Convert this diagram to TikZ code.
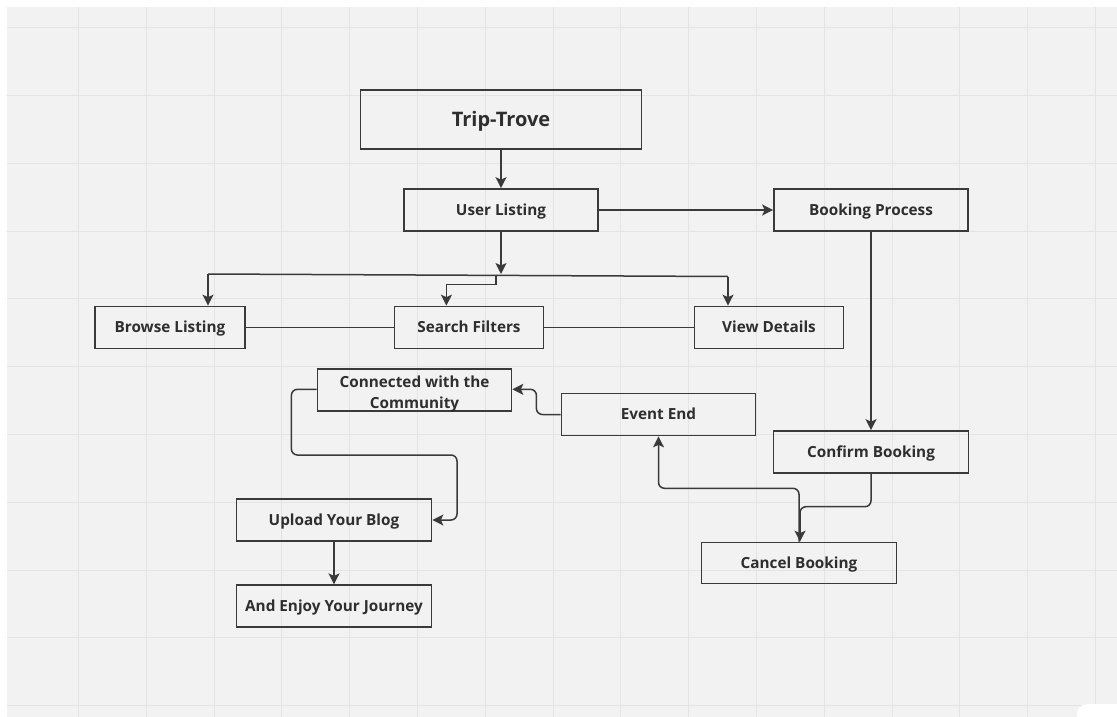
\documentclass[tikz,border=0pt]{standalone}
\usepackage{fontspec}
\setmainfont{Open Sans}
\usetikzlibrary{arrows.meta}
\definecolor{bgc}{HTML}{F2F2F2}
\definecolor{gridc}{HTML}{E4E4E4}
\definecolor{linec}{HTML}{3A3A3A}
\definecolor{textc}{HTML}{2E2E2E}
\tikzset{
  box/.style={draw=linec, line width=1.7pt, rectangle, inner sep=0pt,
    font=\bfseries\fontsize{15.3}{21}\selectfont, text=textc, align=center,
    text height=10.9pt, text depth=0pt},
  conn/.style={draw=linec, line width=1.5pt},
  arr/.style={conn, -{Stealth[length=11pt,width=11pt,inset=2.5pt]}},
  rc/.style={rounded corners=6pt}
}
\begin{document}
\begin{tikzpicture}[x=1pt,y=-1pt]
\useasboundingbox (0,0) rectangle (1117,717);
\fill[white] (0,0) rectangle (1117,717);
\begin{scope}
\clip (0,0) rectangle (1117,717);
\fill[bgc] (7,7) rectangle (1117,717);
\foreach \k in {1,...,16} \draw[gridc, line width=1.1pt] ({10.7+67.8*\k},7) -- ({10.7+67.8*\k},717);
\foreach \k in {0,...,10} \draw[gridc, line width=1.1pt] (7,{27.7+67.8*\k}) -- (1117,{27.7+67.8*\k});
\fill[white, rounded corners=10pt] (1077,704) rectangle (1140,740);
\end{scope}

% nodes
\node[box, minimum width=281pt, minimum height=59pt, font=\bfseries\fontsize{20}{24}\selectfont, text height=14.3pt] (trip) at (501,119.5) {Trip-Trove};
\node[box, minimum width=194pt, minimum height=42pt] (user) at (501,210) {User Listing};
\node[box, minimum width=194pt, minimum height=42pt] (book) at (871,210) {Booking Process};
\node[box, minimum width=150pt, minimum height=42pt] (browse) at (170,327.5) {Browse Listing};
\node[box, minimum width=149pt, minimum height=42pt] (search) at (469,327.5) {Search Filters};
\node[box, minimum width=149pt, minimum height=42pt] (view) at (769,327.5) {View Details};
\node[box, minimum width=194pt, minimum height=41.5pt, text height=36pt, text depth=0pt] (comm) at (414.5,390) {Connected with the\\Community};
\node[box, minimum width=194pt, minimum height=42pt] (event) at (658.5,414.5) {Event End};
\node[box, minimum width=195pt, minimum height=42pt] (upload) at (334,520) {Upload Your Blog};
\node[box, minimum width=195pt, minimum height=41.5pt] (enjoy) at (334,606) {And Enjoy Your Journey};
\node[box, minimum width=195pt, minimum height=42pt] (confirm) at (871,452) {Confirm Booking};
\node[box, minimum width=195pt, minimum height=41pt] (cancel) at (799,563) {Cancel Booking};

% junction coordinates
\coordinate (jn) at (501,274);
\coordinate (jl) at (208,274);
\coordinate (jr) at (728,276.5);
\coordinate (js) at (496,274.5);

% connectors
\draw[arr] (trip.south) -- (user.north);
\draw[arr] (user.south) -- (jn);
\draw[conn] (jl) -- (jr);
\draw[arr] (jl) -- (jl |- browse.north);
\draw[arr] (jr) -- (jr |- view.north);
\draw[arr] (js) -- (496,284.3) -- (446.4,284.3) -- (446.4,0 |- search.north);
\draw[conn] (browse.east) -- (search.west);
\draw[conn] (search.east) -- (view.west);
\draw[arr] (user.east) -- (book.west);
\draw[arr] (book.south) -- (confirm.north);
\draw[arr, rc] (confirm.south) -- (871,506.7) -- (800,506.7) -- (800,0 |- cancel.north);
\draw[arr, rc] (799,0 |- cancel.north) -- (799,488.3) -- (658.5,488.3) -- (event.south);
\draw[arr, rc] (event.west) -- (536.4,414.5) -- (536.4,389.3) -- (comm.east |- 0,389.3);
\draw[arr, rc] (comm.west |- 0,389.3) -- (291.4,389.3) -- (291.4,455) -- (457,455) -- (457,520) -- (upload.east);
\draw[arr] (upload.south) -- (enjoy.north);
\end{tikzpicture}
\end{document}
